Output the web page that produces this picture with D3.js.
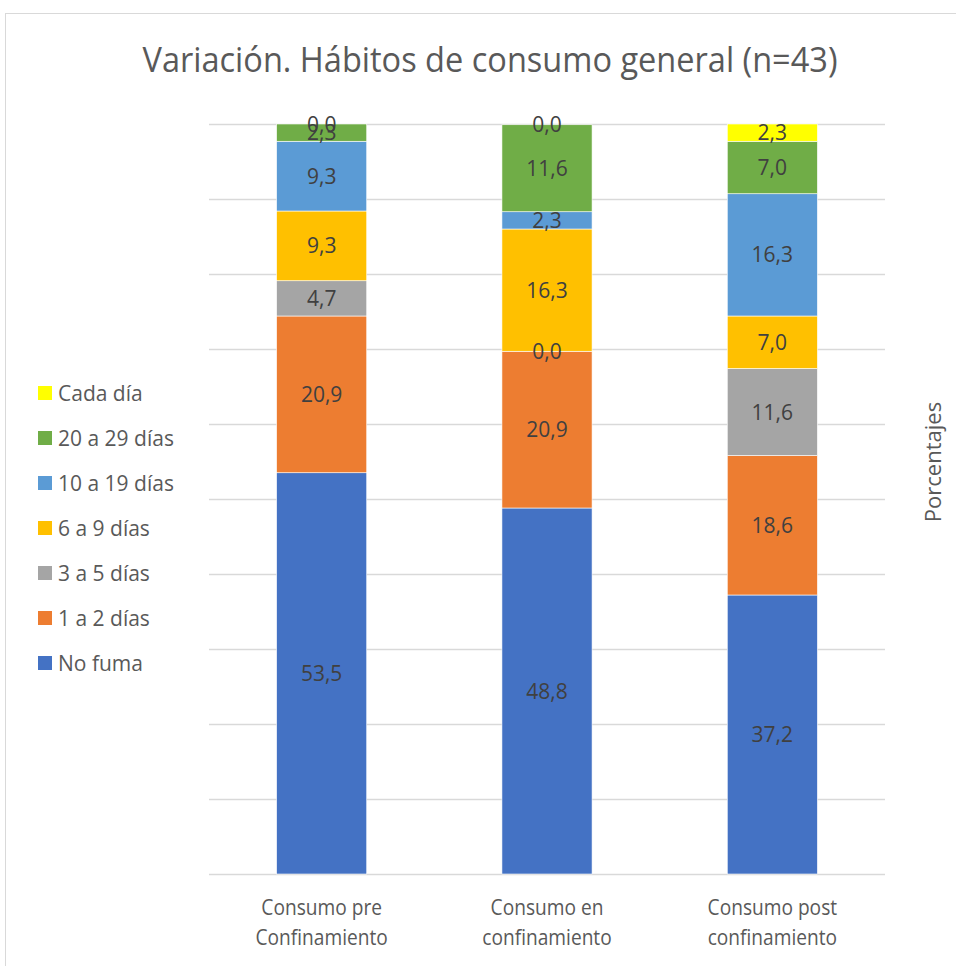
<!DOCTYPE html>
<html lang="es">
<head>
    <meta charset="UTF-8">
    <title>Variación. Hábitos de consumo general</title>
    <style>
        body { margin: 0; padding: 0; background: #fff; }
        svg { display: block; }
        text { font-family: 'Open Sans', 'Noto Sans', sans-serif; fill: #595959; }
        .grid line { stroke: #d9d9d9; stroke-width: 1.3px; }
        .val { fill: #404040; font-size: 21px; text-anchor: middle; }
    </style>
</head>
<body>
    <script src="https://d3js.org/d3.v7.min.js"></script>
    <script>
        const width = 956;
        const height = 966;

        // categories and series
        const categories = ['Consumo pre\nConfinamiento', 'Consumo en\nconfinamiento', 'Consumo post\nconfinamiento'];
        const seriesNames = ['No fuma', '1 a 2 días', '3 a 5 días', '6 a 9 días', '10 a 19 días', '20 a 29 días', 'Cada día'];
        const seriesColors = ['#4472c4', '#ed7d31', '#a5a5a5', '#ffc000', '#5b9bd5', '#70ad47', '#ffff00'];
        const noFuma = [53.5, 48.8, 37.2];
        const unoADos = [20.9, 20.9, 18.6];
        const tresACinco = [4.7, 0.0, 11.6];
        const seisANueve = [9.3, 16.3, 7.0];
        const diezADiecinueve = [9.3, 2.3, 16.3];
        const veinteAVeintinueve = [2.3, 11.6, 7.0];
        const cadaDia = [0.0, 0.0, 2.3];
        const yTicks = d3.range(0, 101, 10);

        const seriesValues = [noFuma, unoADos, tresACinco, seisANueve, diezADiecinueve, veinteAVeintinueve, cadaDia];

        const rows = categories.map((c, i) => {
            const r = { cat: c };
            seriesNames.forEach((s, j) => r[s] = seriesValues[j][i]);
            return r;
        });
        const stacked = d3.stack().keys(seriesNames)(rows);

        const svg = d3.select('body').append('svg')
            .attr('width', width)
            .attr('height', height);

        // chart border
        svg.append('rect')
            .attr('x', 5.5).attr('y', 13.5)
            .attr('width', width + 10).attr('height', height + 10)
            .attr('fill', 'none')
            .attr('stroke', '#d9d9d9')
            .attr('stroke-width', 1);

        const x = d3.scaleBand()
            .domain(categories)
            .range([209, 885])
            .paddingInner(0.6)
            .paddingOuter(0.3);

        const y = d3.scaleLinear()
            .domain([0, 100])
            .range([874, 124]);

        // gridlines
        svg.append('g').attr('class', 'grid')
            .selectAll('line')
            .data(yTicks)
            .enter().append('line')
            .attr('x1', 209).attr('x2', 885)
            .attr('y1', d => Math.round(y(d)) + 0.5)
            .attr('y2', d => Math.round(y(d)) + 0.5);

        // bars
        const layer = svg.append('g')
            .selectAll('g')
            .data(stacked)
            .enter().append('g')
            .attr('fill', (d, i) => seriesColors[i]);

        layer.selectAll('rect')
            .data(d => d)
            .enter().append('rect')
            .attr('x', d => x(d.data.cat))
            .attr('width', x.bandwidth())
            .attr('y', d => y(d[1]))
            .attr('height', d => y(d[0]) - y(d[1]))
            .attr('stroke', '#fff')
            .attr('stroke-width', 0.6);

        // value labels
        const labels = svg.append('g');
        stacked.forEach(s => {
            s.forEach(d => {
                labels.append('text')
                    .attr('class', 'val')
                    .attr('x', x(d.data.cat) + x.bandwidth() / 2)
                    .attr('y', (y(d[0]) + y(d[1])) / 2 + 7.5)
                    .text((d[1] - d[0]).toFixed(1).replace('.', ','));
            });
        });

        // category labels (narrow, like the original)
        const xl = svg.append('g');
        categories.forEach(c => {
            c.split('\n').forEach((line, k) => {
                xl.append('text')
                    .attr('text-anchor', 'middle')
                    .attr('font-size', 22)
                    .attr('transform', `translate(${x(c) + x.bandwidth() / 2},${915 + k * 30}) scale(0.87,1)`)
                    .text(line);
            });
        });

        // title
        svg.append('text')
            .attr('x', 490)
            .attr('y', 72)
            .attr('text-anchor', 'middle')
            .attr('font-size', 35)
            .attr('textLength', 695)
            .attr('lengthAdjust', 'spacingAndGlyphs')
            .text('Variación. Hábitos de consumo general (n=43)');

        // y axis title
        svg.append('text')
            .attr('transform', 'translate(941,462) rotate(-90)')
            .attr('text-anchor', 'middle')
            .attr('font-size', 22)
            .text('Porcentajes');

        // legend (top = Cada día)
        const legend = svg.append('g')
            .selectAll('g')
            .data(seriesNames.slice().reverse())
            .enter().append('g')
            .attr('transform', (d, i) => `translate(38,${393 + i * 45})`);

        legend.append('rect')
            .attr('x', 0).attr('y', -7)
            .attr('width', 14).attr('height', 14)
            .attr('fill', d => seriesColors[seriesNames.indexOf(d)]);

        legend.append('text')
            .attr('x', 20)
            .attr('y', 7.5)
            .attr('font-size', 21)
            .text(d => d);
    </script>
</body>
</html>
